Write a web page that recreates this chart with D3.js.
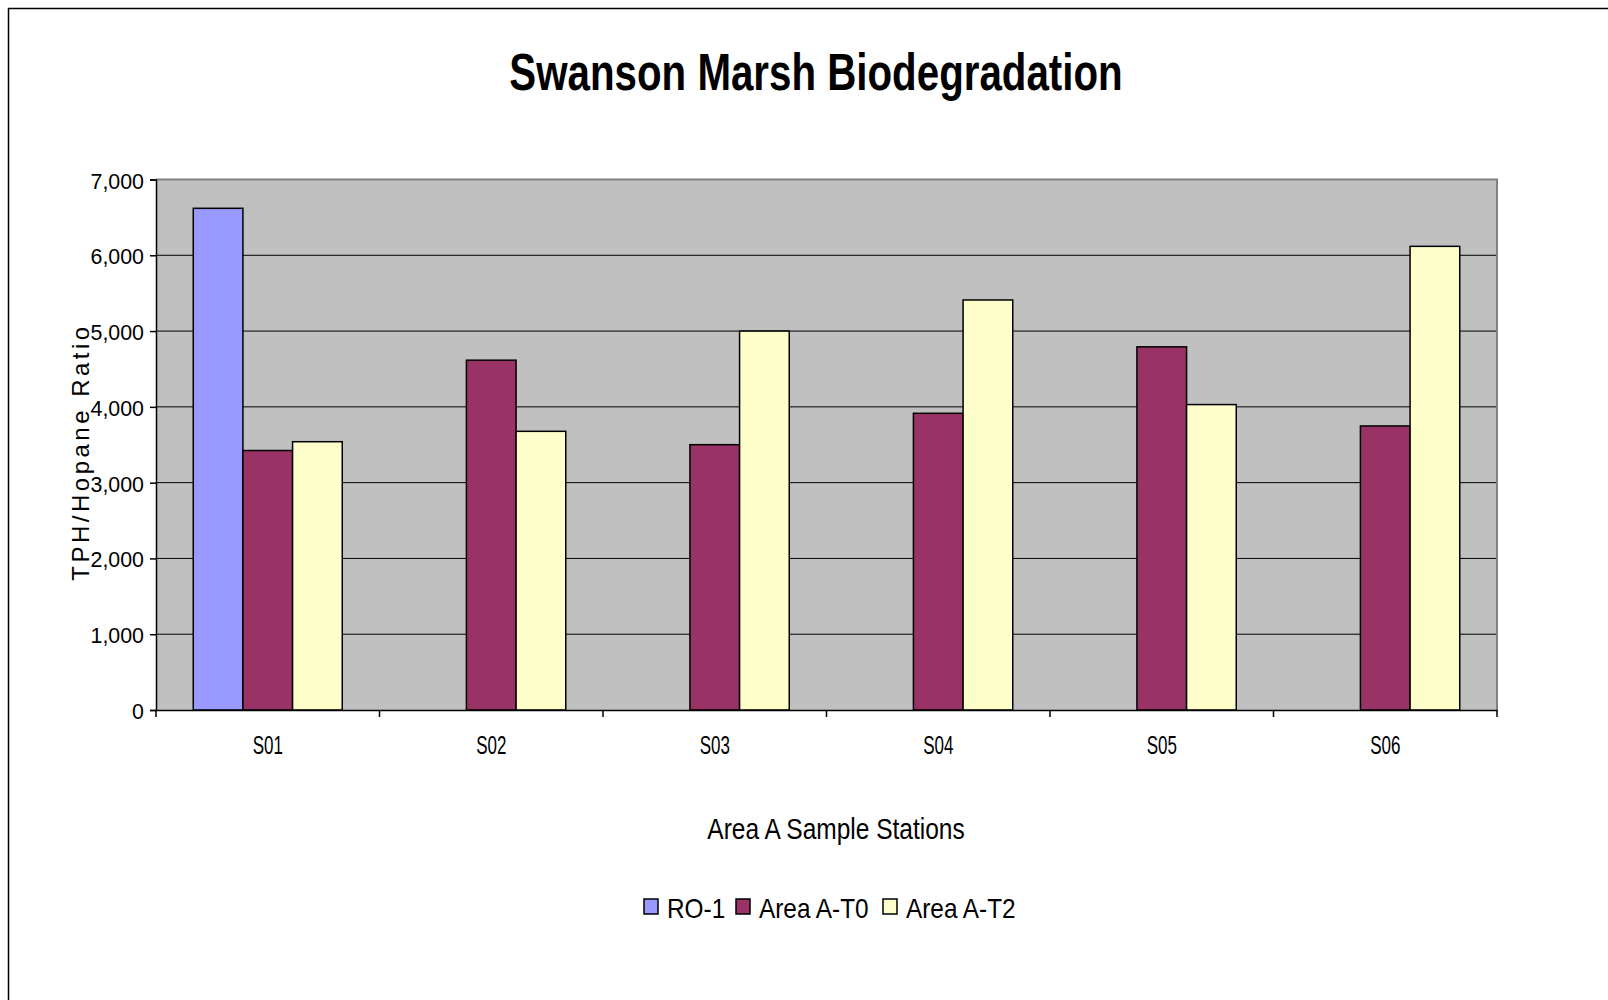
<!DOCTYPE html>
<html>
<head>
<meta charset="utf-8">
<script src="https://cdn.jsdelivr.net/npm/d3@7"></script>
<style>
  body { margin: 0; background: #fff; }
  text { font-family: "Liberation Sans", Arial, sans-serif; fill: #000; }
</style>
</head>
<body>
<div id="chart"></div>
<script>
var stations = ['S01', 'S02', 'S03', 'S04', 'S05', 'S06'];
var seriesNames = ['RO-1', 'Area A-T0', 'Area A-T2'];
var ro1 = [6620, null, null, null, null, null];
var areaT0 = [3424, 4616, 3501, 3915, 4792, 3748];
var areaT2 = [3540, 3677, 5000, 5410, 4030, 6118];
var yTicks = [0, 1000, 2000, 3000, 4000, 5000, 6000, 7000];
var colors = ['#9999ff', '#993366', '#ffffcc'];

var margin = { top: 179.5, right: 111, bottom: 290, left: 156 },
    width = 1608 - margin.left - margin.right,
    height = 1000 - margin.top - margin.bottom;

var svg = d3.select('#chart').append('svg')
    .attr('width', 1608)
    .attr('height', 1000);

// the original uses a condensed face; squeeze text horizontally
function squeeze(sel, x, y, k) {
    return sel.attr('transform', 'translate(' + x + ',' + y + ') scale(' + k + ',1)');
}

// outer frame (runs off the right and bottom edge like the original)
svg.append('rect')
    .attr('x', 8.5).attr('y', 8.5)
    .attr('width', 1700).attr('height', 1100)
    .attr('fill', 'none').attr('stroke', '#000').attr('stroke-width', 1.5);

squeeze(svg.append('text'), 816, 90, 0.775)
    .attr('text-anchor', 'middle')
    .style('font-size', '52px')
    .style('font-weight', 'bold')
    .text('Swanson Marsh Biodegradation');

var g = svg.append('g')
    .attr('transform', 'translate(' + margin.left + ',' + margin.top + ')');

var x0 = d3.scaleBand()
    .domain(stations)
    .range([0, width])
    .paddingInner(1 / 3)
    .paddingOuter(1 / 6);

var x1 = d3.scaleBand()
    .domain(seriesNames)
    .range([0, x0.bandwidth()]);

var y = d3.scaleLinear()
    .domain([0, 7000])
    .range([height, 0]);

g.append('rect')
    .attr('width', width).attr('height', height)
    .attr('fill', '#c0c0c0');

// gridlines
g.selectAll('.grid')
    .data(yTicks.slice(1, -1))
    .enter()
    .append('line')
        .attr('x1', 0).attr('x2', width)
        .attr('y1', function (d) { return y(d); })
        .attr('y2', function (d) { return y(d); })
        .attr('stroke', '#000').attr('stroke-width', 1);

// top + right border of plot area
g.append('path')
    .attr('d', 'M0,0H' + width + 'V' + height)
    .attr('fill', 'none').attr('stroke', '#808080').attr('stroke-width', 2);

var rows = stations.map(function (s, i) {
    return { station: s, values: [ro1[i], areaT0[i], areaT2[i]] };
});

var groups = g.selectAll('.grp')
    .data(rows)
    .enter()
    .append('g')
        .attr('transform', function (d) { return 'translate(' + x0(d.station) + ',0)'; });

groups.selectAll('rect')
    .data(function (d) {
        return d.values.map(function (v, j) { return { name: seriesNames[j], value: v, color: colors[j] }; })
            .filter(function (e) { return e.value != null; });
    })
    .enter()
    .append('rect')
        .attr('x', function (d) { return x1(d.name); })
        .attr('y', function (d) { return y(d.value); })
        .attr('width', x1.bandwidth())
        .attr('height', function (d) { return height - y(d.value); })
        .attr('fill', function (d) { return d.color; })
        .attr('stroke', '#000')
        .attr('stroke-width', 1.5);

// y axis
var yAxis = g.append('g')
    .call(d3.axisLeft(y).tickValues(yTicks).tickFormat(d3.format(',')).tickSize(6).tickPadding(0));
yAxis.select('.domain').attr('stroke', '#000').attr('stroke-width', 1.5);
yAxis.selectAll('.tick line').attr('stroke-width', 1.5);
yAxis.selectAll('text')
    .attr('x', 0).attr('dy', null)
    .style('font-size', '23px')
    .attr('transform', 'translate(-12,8.5) scale(0.93,1)');

// x axis: ticks sit between the stations
var xAxis = g.append('g')
    .attr('transform', 'translate(0,' + height + ')')
    .call(d3.axisBottom(x0).tickSize(0));
xAxis.select('.domain').attr('stroke', '#000').attr('stroke-width', 1.5);
xAxis.selectAll('text')
    .attr('y', 0).attr('dy', null)
    .style('font-size', '25px')
    .attr('transform', 'translate(0,44) scale(0.68,1)');

var step = x0.step();
xAxis.selectAll('.sep')
    .data(d3.range(stations.length + 1))
    .enter()
    .append('line')
        .attr('x1', function (d) { return d * step; })
        .attr('x2', function (d) { return d * step; })
        .attr('y1', 0).attr('y2', 7)
        .attr('stroke', '#000').attr('stroke-width', 1.5);

squeeze(svg.append('text'), 836, 839, 0.845)
    .attr('text-anchor', 'middle')
    .style('font-size', '29px')
    .text('Area A Sample Stations');

svg.append('text')
    .attr('transform', 'translate(89,452)rotate(-90)')
    .attr('text-anchor', 'middle')
    .style('font-size', '24px')
    .style('letter-spacing', '3.5px')
    .text('TPH/Hopane Ratio');

// legend
var legendX = [644, 736, 883];
var legend = svg.selectAll('.leg')
    .data(seriesNames)
    .enter()
    .append('g')
        .attr('transform', function (d, i) { return 'translate(' + legendX[i] + ',899)'; });
legend.append('rect')
    .attr('width', 14).attr('height', 15)
    .attr('fill', function (d, i) { return colors[i]; })
    .attr('stroke', '#000').attr('stroke-width', 1.5);
squeeze(legend.append('text'), 23, 19, 0.87)
    .style('font-size', '28px')
    .text(function (d) { return d; });
</script>
</body>
</html>
